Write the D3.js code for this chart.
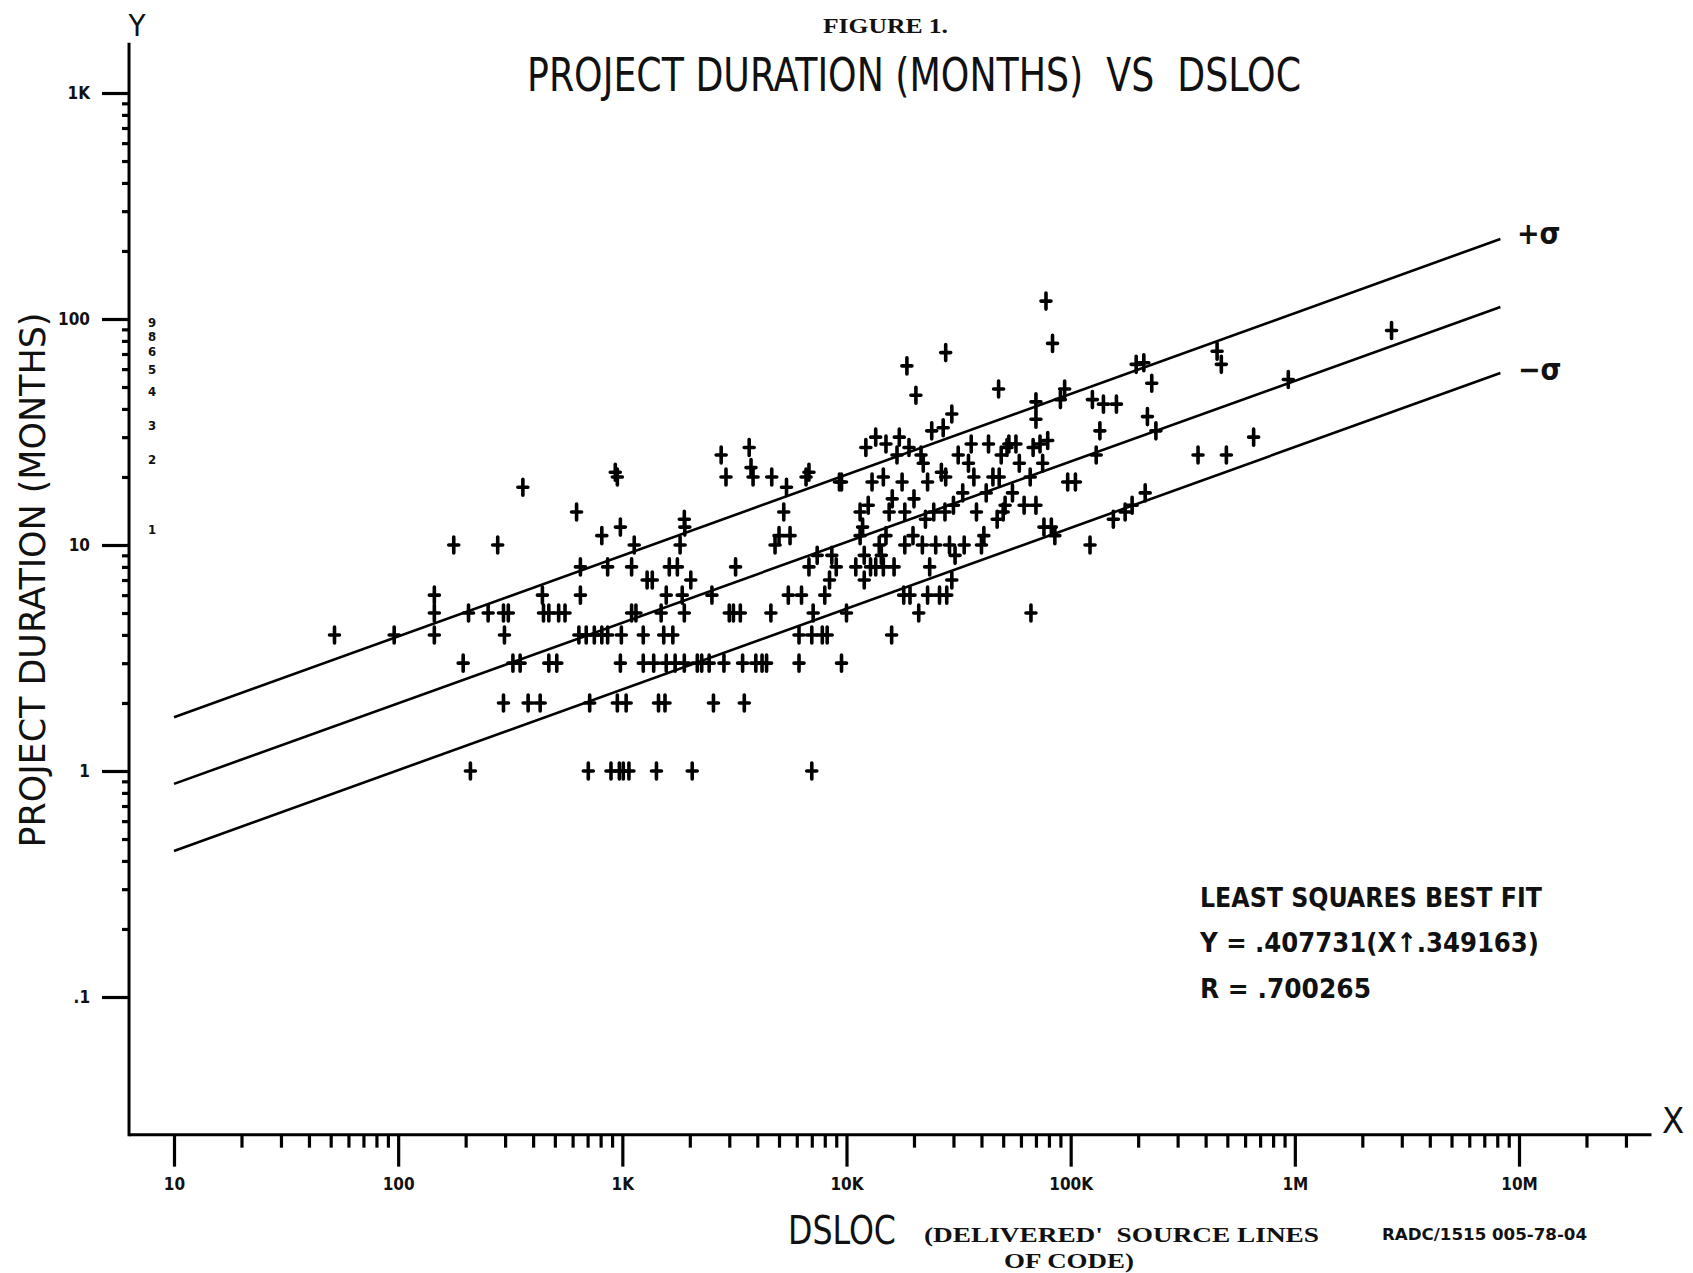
<!DOCTYPE html>
<html>
<head>
<meta charset="utf-8">
<style>
  body { margin: 0; background: #fff; }
  svg { display: block; }
  text { fill: #111; white-space: pre; }
  .plot { font-family: "DejaVu Sans Condensed", "Liberation Sans Narrow", sans-serif; font-stretch: condensed; }
  .bold { font-family: "Liberation Sans Narrow", "DejaVu Sans Condensed", sans-serif; font-weight: bold; font-stretch: condensed; }
  .type { font-family: "Liberation Serif", "DejaVu Serif", serif; font-weight: bold; }
</style>
</head>
<body>
<svg width="1693" height="1273"></svg>
<script src="https://cdn.jsdelivr.net/npm/d3@7"></script>
<script>
// tick values / labels
var xTickValues = [10, 100, 1e3, 1e4, 1e5, 1e6, 1e7];
var xTickLabels = ["10", "100", "1K", "10K", "100K", "1M", "10M"];
var yTickValues = [0.1, 1, 10, 100, 1000];
var yTickLabels = [".1", "1", "10", "100", "1K"];
var xAxisEnds = [6.3, 3.9e7];
var yAxisEnds = [0.0246, 1670];

// least squares line and +/- sigma lines
var fitX = [10, 8.26e6];
var fitUpper = [1.73, 226];
var fitMid = [0.877, 113];
var fitLower = [0.443, 57.7];

// hand marks next to the y axis
var scrawlValues = [97, 84, 72, 60, 48, 34, 24, 11.8];
var scrawlText = ["9", "8", "6", "5", "4", "3", "2", "1"];

// projects: [DSLOC, duration in months]
var projects = [
[52,4],[96,4],[145,6],[145,5],[145,4],[177,10],[195,3],[206,5],[210,1],[252,5],[278,10],[295,5],[298,4],[295,2],[325,3],[310,5],[360,18],[350,3],[380,2],[430,2],[440,6],[445,5],[470,5],[470,3],[510,3],[520,5],[555,5],
[625,14],[650,8],[650,6],[640,4],[690,4],[715,2],[705,1],[750,4],[810,11],[810,4],[860,8],[860,4],[890,1],[930,21],[950,20],[950,2],[980,12],[990,4],[970,1],[1010,1],[1070,1],[1040,2],[980,3],[1100,8],[1100,5],[1130,10],[1150,5],
[1240,3],[1240,4],[1290,7],[1360,7],[1380,3],[1420,1],[1450,2],[1490,5],[1530,4],[1550,2],[1570,3],[1570,6],[1620,8],[1680,4],[1720,3],[1760,8],[1810,10],[1850,6],[1890,5],[1890,13],[1900,12],[1890,3],[2050,1],[2160,3],[2020,7],[2260,3],[2440,3],[2510,6],[2550,2],[2760,25],[2840,3],[2900,20],[3000,5],[3130,5],[3200,8],[3360,5],[3440,3],[3500,2],[3680,27],[3750,22],[3830,20],[3940,3],[4200,3],[4400,3],[4640,20],[4600,5],[4800,10],[5000,11],[5250,14],[5400,18],[5600,11],[5500,6],[6140,3],[6140,4],[6300,6],[6600,20],[6800,21],[6800,8],[7000,4],[7000,1],[7100,5],[7400,9],[7800,4],[8000,6],[8200,4],[8400,7],[8600,9],[9000,8],[9500,3],[9300,19],[9500,19],
[10000,5],[11000,8],[11500,11],[11500,14],[12000,7],[11800,12],[12000,9],[12200,27],[12500,15],[12800,8],[13500,30],[13000,19],[13500,8],[14000,10],[14300,9],[14600,20],[14600,8],[15000,11],[15000,28],[15500,14],[16000,16],[15900,4],[16300,8],[16800,25],[17200,30],[17700,19],[18000,6],[18200,10],[18200,14],[18600,62],[19000,27],[19200,6],[19800,11],[20000,16],[20400,46],[21000,5],[21500,25],[21800,10],[22000,23],[22500,13],[23000,19],[23000,6],[23500,8],[24000,32],[24500,14],[25000,10],[26000,6],[26500,21],[27000,33],[27500,14],[27700,71],[27700,20],[28800,10],[29500,38],[30000,15],[30500,9],[31500,25],[33000,17],[33500,10],[35000,23],[36000,28],[37000,20],[38000,14],[40000,10],[41000,11],[42000,17],[43000,28],[45000,20],[47000,13],[49000,25],[50000,14],[52000,27],[47700,49],[48000,20],[51000,15],[53000,28],[55000,17],[57000,28],[59000,23],[62000,15],[66000,20],[68000,27],[70000,36],[73000,28],[66500,5],[70000,15],[70000,43],[75000,23],[76000,12],[77600,120],[79000,29],[83000,78],[82000,12],[85000,11],[90000,44],[94000,49],[97000,19],[105000,19],
[122000,10],[125000,44],[130000,25],[135000,32],[140000,42],[155000,13],[160000,42],[175000,14],[188000,15],[196000,63],[212000,64],[215000,17],[220000,37],[230000,52],[240000,32],[370000,25],[450000,72],[470000,63],[495000,25],[655000,30],[935000,54],[2.7e6,89],
[28000,6],[29500,7]
];

var svg = d3.select("svg");

var x = d3.scaleLog().domain([10, 1e7]).range([174, 1519]);
var y = d3.scaleLog().domain([0.1, 1000]).range([997, 93]);

// minor ticks 2..9 in each decade
var xMinor = [];
for (var d = 10; d < 1e7; d *= 10) {
  for (var k = 2; k <= 9; k++) xMinor.push(k * d);
}
xMinor.push(2e7, 3e7);
var yMinor = [];
for (var e = 0.1; e < 999; e *= 10) {
  for (var m = 2; m <= 9; m++) yMinor.push(m * e);
}

var x0 = y(yAxisEnds[0]), y0 = x(xAxisEnds[0]);

// axis lines
svg.append("line")
  .attr("x1", x(xAxisEnds[0])).attr("x2", x(xAxisEnds[1]))
  .attr("y1", x0).attr("y2", x0)
  .attr("stroke", "#000").attr("stroke-width", 3);
svg.append("line")
  .attr("x1", y0).attr("x2", y0)
  .attr("y1", y(yAxisEnds[0]) + 1.5).attr("y2", y(yAxisEnds[1]))
  .attr("stroke", "#000").attr("stroke-width", 3);

var gx = svg.append("g").attr("transform", "translate(0," + x0 + ")");
gx.append("g").call(d3.axisBottom(x).tickValues(xMinor).tickSize(13).tickFormat(""));
gx.append("g").attr("class", "bold")
  .call(d3.axisBottom(x).tickValues(xTickValues).tickSize(32).tickPadding(11)
    .tickFormat(function(d, i) { return xTickLabels[i]; }));

var gy = svg.append("g").attr("transform", "translate(" + y0 + ",0)");
gy.append("g").call(d3.axisLeft(y).tickValues(yMinor).tickSize(7).tickFormat(""));
gy.append("g").attr("class", "bold")
  .call(d3.axisLeft(y).tickValues(yTickValues).tickSize(27).tickPadding(12)
    .tickFormat(function(d, i) { return yTickLabels[i]; }));

svg.selectAll(".domain").remove();
svg.selectAll(".tick line").attr("stroke", "#000").attr("stroke-width", 3.2);
svg.selectAll(".tick text").attr("font-size", 17).attr("fill", "#111")
  .attr("font-family", null);

// hand marks near axis
svg.selectAll(".scrawl").data(scrawlValues).enter().append("text")
  .attr("class", "bold")
  .attr("x", 152).attr("y", function(d) { return y(d) + 5; })
  .attr("font-size", 13).attr("text-anchor", "middle")
  .text(function(d, i) { return scrawlText[i]; });

// fit lines
var line = d3.line().x(function(d) { return x(d[0]); }).y(function(d) { return y(d[1]); });
[fitUpper, fitMid, fitLower].forEach(function(s) {
  svg.append("path")
    .datum(fitX.map(function(v, i) { return [v, s[i]]; }))
    .attr("d", line)
    .attr("fill", "none").attr("stroke", "#000").attr("stroke-width", 2.6);
});

// project marks
svg.append("g").selectAll("path").data(projects).enter().append("path")
  .attr("transform", function(d) { return "translate(" + x(d[0]) + "," + y(d[1]) + ")"; })
  .attr("d", "M0,-8V8M-5,0H5")
  .attr("stroke", "#000").attr("stroke-width", 3.6).attr("stroke-linecap", "round")
  .attr("fill", "none");

// texts
svg.append("text").attr("class", "plot").attr("x", 137).attr("y", 36)
  .attr("text-anchor", "middle").attr("font-size", 31).text("Y");
svg.append("text").attr("class", "plot").attr("x", 1673).attr("y", 1133)
  .attr("text-anchor", "middle").attr("font-size", 36).text("X");

svg.append("text").attr("class", "type").attr("x", 823).attr("y", 33)
  .attr("font-size", 22).attr("textLength", 125).attr("lengthAdjust", "spacingAndGlyphs")
  .text("FIGURE 1.");
svg.append("text").attr("class", "plot").attr("x", 527).attr("y", 91)
  .attr("font-size", 47).attr("textLength", 774).attr("lengthAdjust", "spacingAndGlyphs")
  .text("PROJECT DURATION (MONTHS)  VS  DSLOC");

svg.append("text").attr("class", "plot")
  .attr("transform", "translate(45,580) rotate(-90)")
  .attr("text-anchor", "middle").attr("font-size", 35)
  .attr("textLength", 535).attr("lengthAdjust", "spacingAndGlyphs")
  .text("PROJECT DURATION (MONTHS)");

svg.append("text").attr("class", "plot").attr("x", 788).attr("y", 1244)
  .attr("font-size", 39).attr("textLength", 108).attr("lengthAdjust", "spacingAndGlyphs")
  .text("DSLOC");
svg.append("text").attr("class", "type").attr("x", 924).attr("y", 1242)
  .attr("font-size", 22).attr("textLength", 395).attr("lengthAdjust", "spacingAndGlyphs")
  .text("(DELIVERED'  SOURCE LINES");
svg.append("text").attr("class", "type").attr("x", 1004).attr("y", 1268)
  .attr("font-size", 22).attr("textLength", 130).attr("lengthAdjust", "spacingAndGlyphs")
  .text("OF CODE)");
svg.append("text").attr("class", "bold").attr("x", 1382).attr("y", 1240)
  .attr("font-size", 16).attr("textLength", 205).attr("lengthAdjust", "spacingAndGlyphs")
  .text("RADC/1515 005-78-04");

var legend = [
  ["LEAST SQUARES BEST FIT", 907, 342],
  ["Y = .407731(X\u2191.349163)", 952, 339],
  ["R = .700265", 998, 171]
];
svg.selectAll(".legend").data(legend).enter().append("text")
  .attr("class", "bold").attr("x", 1200).attr("y", function(d) { return d[1]; })
  .attr("font-size", 27).attr("textLength", function(d) { return d[2]; })
  .attr("lengthAdjust", "spacingAndGlyphs")
  .text(function(d) { return d[0]; });

svg.append("text").attr("class", "bold").attr("x", 1517).attr("y", 244)
  .attr("font-size", 30).text("+\u03c3");
svg.append("text").attr("class", "bold").attr("x", 1518).attr("y", 380)
  .attr("font-size", 30).text("\u2212\u03c3");
</script>
</body>
</html>
